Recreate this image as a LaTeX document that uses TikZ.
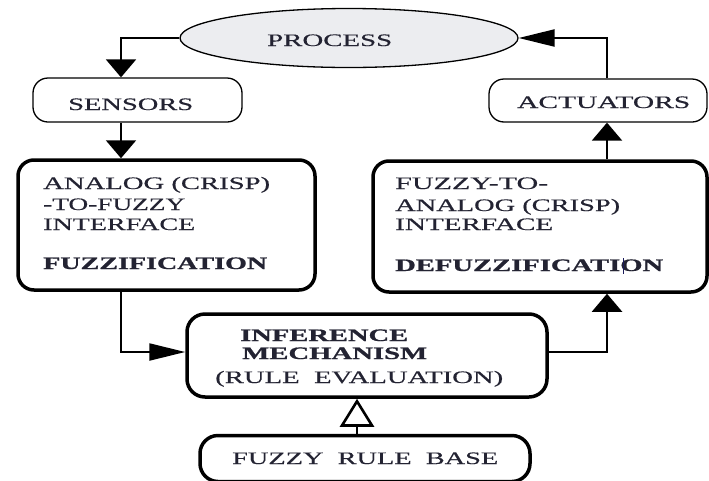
\documentclass[tikz,border=0pt]{standalone}
\usepackage{fontspec}
\setmainfont{Liberation Serif}
\newfontfamily\heavyreg{Liberation Serif}[FakeBold=0.35]
\newfontfamily\heavybold{Liberation Serif Bold}[FakeBold=0.8]
\usepackage{graphicx}
\usetikzlibrary{arrows.meta,shapes.geometric}
\definecolor{txt}{RGB}{35,35,50}
\definecolor{procfill}{RGB}{236,237,240}
\newcommand{\fw}[2]{\resizebox{#1pt}{\height}{#2}}
\begin{document}
\begin{tikzpicture}[x=1pt,y=-1pt,
  thinbox/.style={draw, line width=1.3pt, rounded corners=15pt, inner sep=0pt},
  thickbox/.style={draw, line width=3.5pt, rounded corners=16pt, inner sep=0pt},
  conn/.style={line width=2.2pt, draw=black},
  varr/.style={conn, -{Triangle[length=18pt,width=30pt]}},
  harr/.style={conn, -{Triangle[length=36pt,width=17pt]}},
  openarr/.style={line width=2.2pt, -{Triangle[open,length=28pt,width=34pt,line width=2.6pt]}},
  lbl/.style={inner sep=0pt, font=\heavyreg\fontsize{17.5}{20}\selectfont, text=txt, anchor=base west}]
\useasboundingbox[fill=white] (0,0) rectangle (709,480);

% shapes
\node[ellipse, draw, line width=1.3pt, fill=procfill, minimum width=338pt, minimum height=59pt, inner sep=0pt] (proc) at (349,38) {};
\node[thinbox, minimum width=209pt, minimum height=44pt] (sens) at (137.5,100) {};
\node[thinbox, minimum width=218pt, minimum height=43pt] (act) at (598,100.5) {};
\node[thickbox, minimum width=297pt, minimum height=130pt] (a2f) at (166.5,225) {};
\node[thickbox, minimum width=334pt, minimum height=131pt] (f2a) at (540,226.5) {};
\node[thickbox, minimum width=360pt, minimum height=83pt, rounded corners=18pt] (inf) at (367,355.5) {};
\node[thickbox, minimum width=330pt, minimum height=46pt, rounded corners=18pt] (rb) at (365,458.5) {};

% helper coordinates
\coordinate (xl) at (121,0);
\coordinate (xr) at (607,0);
\coordinate (xc) at (357,0);
\coordinate (ym) at (0,352);

% connectors
\draw[varr] (proc.west) -| (sens.north -| xl);
\draw[varr] (sens.south -| xl) -- (a2f.north -| xl);
\draw[harr] (a2f.south -| xl) |- (inf.west |- ym);
\draw[varr] (inf.east |- ym) -| (f2a.south -| xr);
\draw[varr] (f2a.north -| xr) -- (act.south -| xr);
\draw[harr] (act.north -| xr) |- (proc.east);
\draw[openarr] (rb.north -| xc) -- (inf.south -| xc);

% texts
\node[lbl] (tproc) at (267,46) {\fw{125}{PROCESS}};
\node[lbl] (tsens) at (68,110) {\fw{125}{SENSORS}};
\node[lbl] (tact) at (517,108) {\fw{173}{ACTUATORS}};

\node[lbl] (ta1) at (43,189) {\fw{227}{ANALOG (CRISP)}};
\node[lbl] (ta2) at (43,210) {\fw{142}{-TO-FUZZY}};
\node[lbl] (ta3) at (43,230) {\fw{152}{INTERFACE}};
\node[lbl] (ta4) at (43,269) {\fw{224}{\heavybold FUZZIFICATION}};

\node[lbl] (tf1) at (395,189) {\fw{153}{FUZZY-TO-}};
\node[lbl] (tf2) at (395,211) {\fw{225}{ANALOG (CRISP)}};
\node[lbl] (tf3) at (395,230) {\fw{158}{INTERFACE}};
\node[lbl] (tf4) at (395,271) {\fw{268}{\heavybold DEFUZZIFICATION}};
\draw[line width=0.8pt, draw=txt!80!blue] (623,258) -- (623,274);

\node[lbl] (ti1) at (240,341) {\fw{168}{\heavybold INFERENCE}};
\node[lbl] (ti2) at (242,359) {\fw{185}{\heavybold MECHANISM}};
\node[lbl] (ti3) at (215,383) {\fw{288}{(RULE\ \ EVALUATION)}};

\node[lbl] (trb) at (232,464) {\fw{266}{FUZZY\ \ RULE\ \ BASE}};
\end{tikzpicture}
\end{document}
